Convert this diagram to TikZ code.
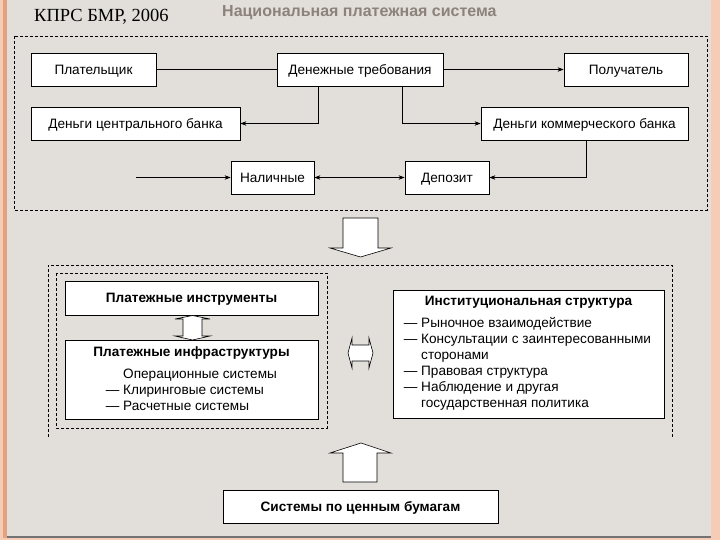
\documentclass[tikz,border=0pt]{standalone}
\usepackage{fontspec}
\setmainfont{Liberation Sans}
\newfontfamily\citefont{Liberation Serif}
\usetikzlibrary{arrows.meta}
\definecolor{bg}{HTML}{E2DED9}
\definecolor{peach}{HTML}{F7CCB6}
\definecolor{rim}{HTML}{E3A27E}
\definecolor{titlegray}{HTML}{8C827B}
\begin{document}
\begin{tikzpicture}[x=1pt,y=-1pt,
  box/.style={draw=black, fill=white, line width=0.8pt, inner sep=0pt, text height=9.8pt, text depth=0pt, font=\fontsize{13.6}{16}\selectfont},
  bbox/.style={box, font=\fontsize{13.6}{16}\selectfont\bfseries},
  txt/.style={inner sep=0pt, font=\fontsize{13.6}{16}\selectfont},
  btxt/.style={inner sep=0pt, text height=9.8pt, text depth=0pt, font=\fontsize{13.6}{16}\selectfont\bfseries},
  conn/.style={draw=black, line width=0.7pt},
  tip/.style={-{Stealth[length=6pt,width=4.5pt]}},
  frame/.style={draw=black, line width=0.6pt, dash pattern=on 3pt off 2pt},
  blk/.style={draw=black, fill=white, line width=0.6pt, line join=miter}]
\useasboundingbox (0,0) rectangle (720,540);
\fill[bg] (0,0) rectangle (720,540);
\fill[peach] (0,0) rectangle (3,540);
\fill[rim] (3,0) rectangle (7,540);
\fill[peach] (711,0) rectangle (720,540);
\fill[black!55] (7,535.5) rectangle (711,538);
\fill[peach] (0,538) rectangle (720,540);

% header
\node[inner sep=0pt, anchor=west, font=\citefont\fontsize{18.5}{21}\selectfont] (cite) at (34,17) {КПРС БМР, 2006};
\node[inner sep=0pt, anchor=west, text=titlegray, font=\fontsize{16}{19}\selectfont\bfseries] (title) at (222,13) {Национальная платежная система};

% upper frame
\draw[frame] (14,36) rectangle (707,210);

\node[box, minimum width=125pt, minimum height=33pt] (pl) at (93.5,69.5) {Плательщик};
\node[box, minimum width=166pt, minimum height=33pt] (den) at (360,69.5) {Денежные требования};
\node[box, minimum width=124pt, minimum height=33pt] (pol) at (626,69.5) {Получатель};
\node[box, minimum width=209pt, minimum height=33pt] (cb) at (135.5,123.5) {Деньги центрального банка};
\node[box, minimum width=207pt, minimum height=33pt] (kb) at (584.5,123.5) {Деньги коммерческого банка};
\node[box, minimum width=83pt, minimum height=33pt] (nal) at (272.5,177.5) {Наличные};
\node[box, minimum width=84pt, minimum height=33pt] (dep) at (447,177.5) {Депозит};
\coordinate (nalin) at (136,177.5);

\draw[conn] (pl.east) -- (den.west);
\draw[conn, tip] (den.east) -- (pol.west);
\draw[conn, tip] ([xshift=-42pt]den.south) |- (cb.east);
\draw[conn, tip] ([xshift=42pt]den.south) |- (kb.west);
\draw[conn, tip] ([xshift=1.5pt]kb.south) |- (dep.east);
\draw[conn, tip] (nalin) -- (nal.west);
\draw[conn, {Stealth[length=6pt,width=4.5pt]}-{Stealth[length=6pt,width=4.5pt]}] (nal.east) -- (dep.west);

% big down arrow
\draw[blk] (343,218) -- (378,218) -- (378,248) -- (391,248) -- (360.5,257) -- (330,248) -- (343,248) -- cycle;

% lower frames
\draw[frame] (48,437) -- (48,265) -- (672,265) -- (672,437);
\draw[frame] (56,273) rectangle (327,428);

\node[bbox, minimum width=253pt, minimum height=34pt] (ins) at (191.5,298) {Платежные инструменты};
\node[box, minimum width=253pt, minimum height=79pt] (infra) at (191.5,379.5) {};
\node[btxt] (infrat) at (191.5,352) {Платежные инфраструктуры};
\node[txt, anchor=base west] (inf1) at (123,378) {Операционные системы};
\node[txt, anchor=base west] (inf2) at (123,394) {\llap{— }Клиринговые системы};
\node[txt, anchor=base west] (inf3) at (123,410) {\llap{— }Расчетные системы};

\draw[blk] (192.5,315.5) -- (210,319) -- (202,319) -- (202,336) -- (210,336) -- (192.5,340) -- (175,336) -- (183,336) -- (183,319) -- (175,319) -- cycle;

\draw[blk] (348,353) -- (352,338) -- (352,345) -- (369,345) -- (369,338) -- (373,353) -- (369,368) -- (369,361) -- (352,361) -- (352,368) -- cycle;

\node[box, minimum width=271pt, minimum height=128pt] (inst) at (528.5,354) {};
\node[btxt] (instt) at (528.5,301) {Институциональная структура};
\node[txt, anchor=base west] (ist1) at (421,327) {\llap{— }Рыночное взаимодействие};
\node[txt, anchor=base west] (ist2) at (421,343) {\llap{— }Консультации с заинтересованными};
\node[txt, anchor=base west] (ist3) at (421,359) {сторонами};
\node[txt, anchor=base west] (ist4) at (421,375) {\llap{— }Правовая структура};
\node[txt, anchor=base west] (ist5) at (421,391) {\llap{— }Наблюдение и другая};
\node[txt, anchor=base west] (ist6) at (421,407) {государственная политика};

% up arrow
\draw[blk] (343,482) -- (377,482) -- (377,453) -- (391,453) -- (361,443) -- (330,453) -- (343,453) -- cycle;

\node[bbox, minimum width=275pt, minimum height=33pt] (sec) at (360.5,506.5) {Системы по ценным бумагам};
\end{tikzpicture}
\end{document}
